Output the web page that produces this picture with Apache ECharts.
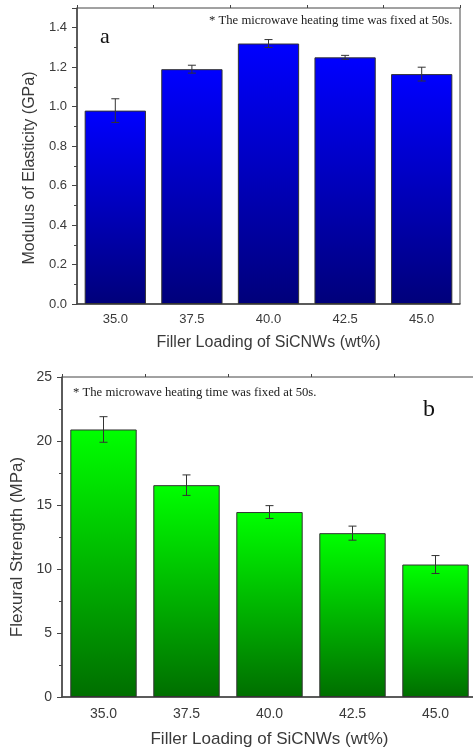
<!DOCTYPE html>
<html>
<head>
<meta charset="utf-8">
<script src="https://cdn.jsdelivr.net/npm/echarts@6/dist/echarts.min.js"></script>
<style>
  html, body { margin: 0; padding: 0; background: #fff; }
  #chart { width: 473px; height: 751px; }
</style>
</head>
<body>
<div id="chart"></div>
<script>
// Data
const loadings = ['35.0', '37.5', '40.0', '42.5', '45.0'];
const modulus = [0.98, 1.19, 1.32, 1.25, 1.165];
const modulusErr = [0.06, 0.02, 0.02, 0.01, 0.035];
const strength = [20.9, 16.55, 14.45, 12.8, 10.35];
const strengthErr = [1.0, 0.8, 0.5, 0.55, 0.7];

const note = '* The microwave heating time was fixed at 50s.';
const xTitle = 'Filler Loading of SiCNWs (wt%)';

const chart = echarts.init(document.getElementById('chart'));

const axisColor = '#444';
const labelColor = '#3a3a3a';
const sans = 'Liberation Sans, Arial, sans-serif';
const serif = 'Liberation Serif, Times New Roman, serif';

const vertGrad = (top, bottom) => new echarts.graphic.LinearGradient(0, 0, 0, 1, [
    { offset: 0, color: top },
    { offset: 1, color: bottom }
]);

// main category axis (ticks at centres) + helper axis (ticks at boundaries)
const catAxis = (gridIndex, fontSize, titleSize, margin, gap) => ({
    type: 'category',
    gridIndex: gridIndex,
    data: loadings,
    name: xTitle,
    nameLocation: 'middle',
    nameGap: gap,
    nameTextStyle: { fontFamily: sans, fontSize: titleSize, color: labelColor },
    axisLine: { lineStyle: { color: axisColor, width: 1.5 } },
    axisTick: { alignWithLabel: true, length: 5, lineStyle: { color: axisColor } },
    axisLabel: { fontFamily: sans, fontSize: fontSize, color: labelColor, margin: margin },
    splitLine: { show: false }
});
const boundaryAxis = (gridIndex) => ({
    type: 'category',
    gridIndex: gridIndex,
    data: loadings,
    axisLine: { show: false },
    axisTick: { show: true, interval: 0, length: 3, lineStyle: { color: axisColor } },
    axisLabel: { show: false },
    splitLine: { show: false }
});

const errorBars = (xAxisIndex, yAxisIndex, vals, errs) => ({
    type: 'custom',
    xAxisIndex: xAxisIndex,
    yAxisIndex: yAxisIndex,
    data: vals.map((v, i) => [i, v, errs[i]]),
    encode: { x: 0, y: 1 },
    z: 5,
    silent: true,
    renderItem: function (params, api) {
        const i = api.value(0);
        const v = api.value(1);
        const e = api.value(2);
        const hi = api.coord([i, v + e]);
        const lo = api.coord([i, v - e]);
        const w = 4;
        const style = { stroke: '#333', lineWidth: 1 };
        return {
            type: 'group',
            children: [
                { type: 'line', shape: { x1: hi[0], y1: hi[1], x2: lo[0], y2: lo[1] }, style: style },
                { type: 'line', shape: { x1: hi[0] - w, y1: hi[1], x2: hi[0] + w, y2: hi[1] }, style: style },
                { type: 'line', shape: { x1: lo[0] - w, y1: lo[1], x2: lo[0] + w, y2: lo[1] }, style: style }
            ]
        };
    }
});

chart.setOption({
    backgroundColor: '#fff',
    animation: false,
    grid: [
        { left: 77, top: 8, width: 383, height: 296, show: true, borderColor: axisColor, borderWidth: 1, outerBoundsMode: 'none' },
        { left: 62, top: 377, width: 415, height: 320, show: true, borderColor: axisColor, borderWidth: 1, outerBoundsMode: 'none' }
    ],
    xAxis: [
        catAxis(0, 13, 16, 9, 31),
        boundaryAxis(0),
        catAxis(1, 14, 17, 10, 34),
        boundaryAxis(1)
    ],
    yAxis: [
        {
            type: 'value',
            gridIndex: 0,
            min: 0,
            max: 1.5,
            interval: 0.2,
            name: 'Modulus of Elasticity (GPa)',
            nameLocation: 'middle',
            nameGap: 36,
            nameTextStyle: { fontFamily: sans, fontSize: 16, color: labelColor, padding: [0, 0, 0, -24] },
            axisLine: { show: true, lineStyle: { color: axisColor, width: 1.5 } },
            axisTick: { show: true, length: 5, lineStyle: { color: axisColor } },
            minorTick: { show: true, splitNumber: 2, length: 3, lineStyle: { color: axisColor } },
            axisLabel: {
                fontFamily: sans, fontSize: 13, color: labelColor, margin: 10,
                formatter: v => (v > 1.45 ? '' : v.toFixed(1))
            },
            splitLine: { show: false }
        },
        {
            type: 'value',
            gridIndex: 1,
            min: 0,
            max: 25,
            interval: 5,
            name: 'Flexural Strength (MPa)',
            nameLocation: 'middle',
            nameGap: 34,
            nameTextStyle: { fontFamily: sans, fontSize: 17, color: labelColor, padding: [0, 0, 0, -20] },
            axisLine: { show: true, lineStyle: { color: axisColor, width: 1.5 } },
            axisTick: { show: true, length: 5, lineStyle: { color: axisColor } },
            minorTick: { show: true, splitNumber: 2, length: 3, lineStyle: { color: axisColor } },
            axisLabel: { fontFamily: sans, fontSize: 14, color: labelColor, margin: 10 },
            splitLine: { show: false }
        }
    ],
    series: [
        {
            type: 'bar',
            xAxisIndex: 0,
            yAxisIndex: 0,
            data: modulus,
            barCategoryGap: '20%',
            itemStyle: { color: vertGrad('#0000ff', '#00007a'), borderColor: '#333', borderWidth: 1 }
        },
        errorBars(0, 0, modulus, modulusErr),
        {
            type: 'bar',
            xAxisIndex: 2,
            yAxisIndex: 1,
            data: strength,
            barCategoryGap: '20%',
            itemStyle: { color: vertGrad('#00ff00', '#006e00'), borderColor: '#333', borderWidth: 1 }
        },
        errorBars(2, 1, strength, strengthErr)
    ],
    graphic: [
        { type: 'text', left: 209, top: 14, style: { text: note, font: '12.7px ' + serif, fill: '#222' } },
        { type: 'text', left: 100, top: 26, style: { text: 'a', font: '22px ' + serif, fill: '#111' } },
        { type: 'text', left: 73, top: 386, style: { text: note, font: '12.7px ' + serif, fill: '#222' } },
        { type: 'text', left: 423, top: 398, style: { text: 'b', font: '24px ' + serif, fill: '#111' } }
    ]
});
</script>
</body>
</html>
